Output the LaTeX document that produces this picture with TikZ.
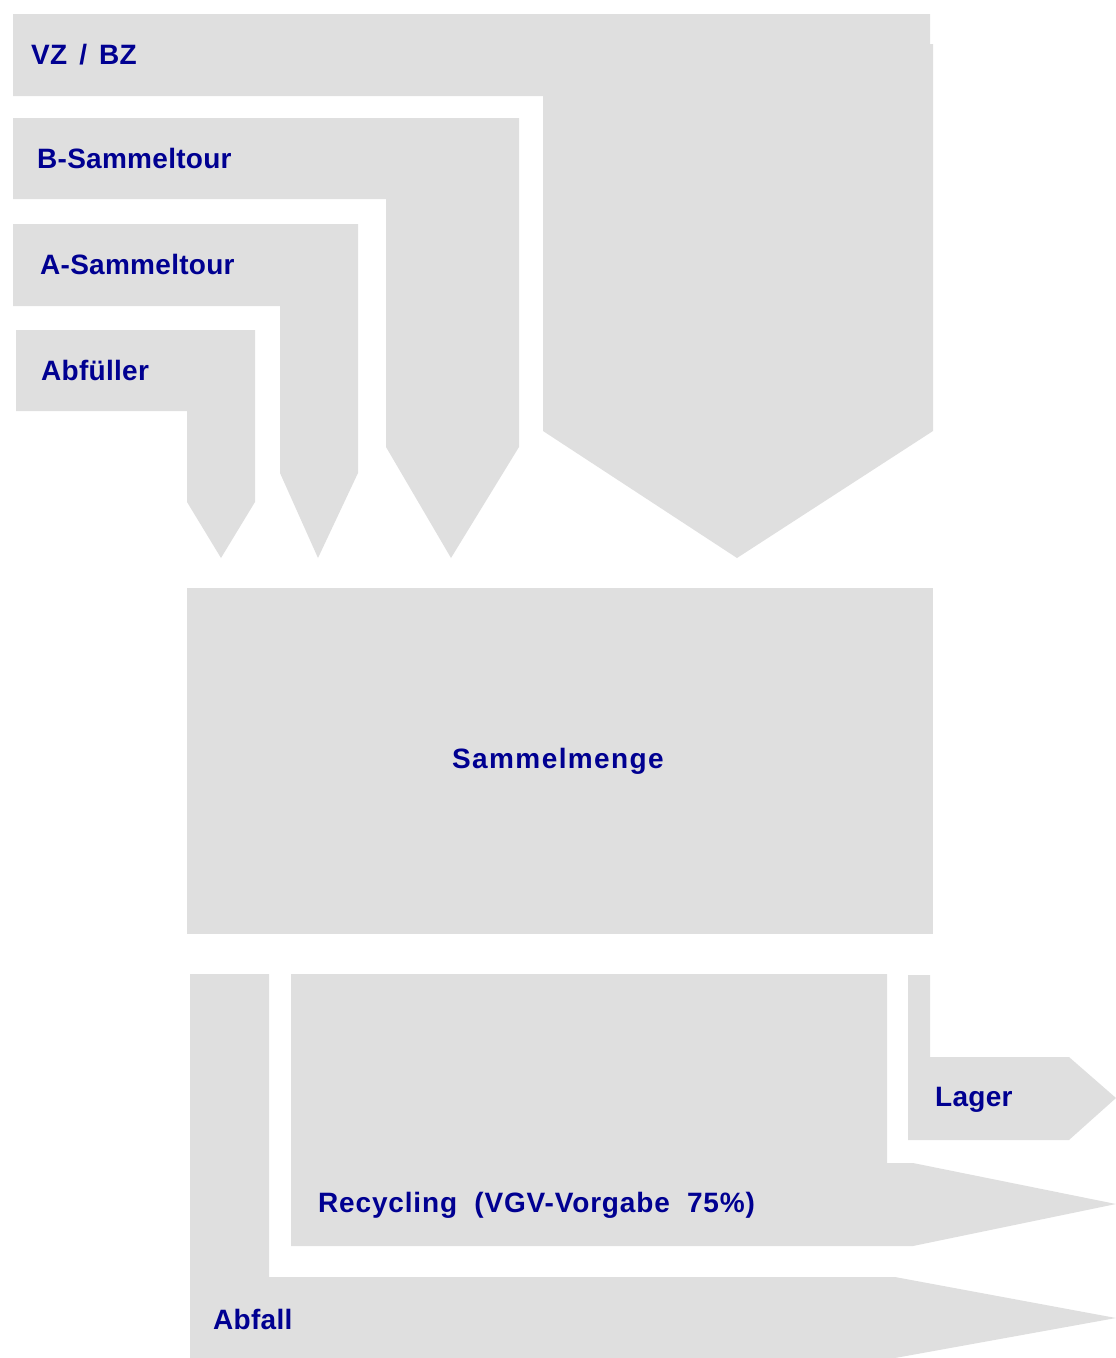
\documentclass[tikz,border=0pt]{standalone}
\usepackage{fontspec}
\setmainfont{Liberation Sans}
\definecolor{flowgray}{RGB}{223,223,223}
\definecolor{labelblue}{RGB}{0,0,145}
\tikzset{
	flow/.style={fill=flowgray, draw=none},
	lbl/.style={text=labelblue, font=\fontsize{28}{32}\selectfont\bfseries\addfontfeature{LetterSpace=1}, inner sep=0pt, anchor=base west},
	widelbl/.style={lbl, font=\fontsize{28}{32}\selectfont\bfseries\addfontfeature{LetterSpace=5}}
}
\begin{document}
\begin{tikzpicture}[x=1pt, y=-1pt]
	\useasboundingbox (0,0) rectangle (1116,1358);
	% inflows
	\fill[flow] (13,14) -- (930,14) -- (930,44) -- (933,44) -- (933,431) -- (737,558)
		-- (543,431) -- (543,96) -- (13,96) -- cycle;
	\fill[flow] (13,118) -- (519,118) -- (519,447) -- (451,558) -- (386,447)
		-- (386,199) -- (13,199) -- cycle;
	\fill[flow] (13,224) -- (358,224) -- (358,473) -- (318,558) -- (280,473)
		-- (280,306) -- (13,306) -- cycle;
	\fill[flow] (16,330) -- (255,330) -- (255,502) -- (221,558) -- (187,502)
		-- (187,411) -- (16,411) -- cycle;
	% total
	\fill[flow] (187,588) rectangle (933,934);
	% outflows
	\fill[flow] (190,974) -- (269,974) -- (269,1277) -- (895,1277) -- (1116,1318)
		-- (895,1358) -- (190,1358) -- cycle;
	\fill[flow] (291,974) -- (887,974) -- (887,1163) -- (913,1163) -- (1116,1204)
		-- (913,1246) -- (291,1246) -- cycle;
	\fill[flow] (908,975) -- (930,975) -- (930,1057) -- (1069,1057) -- (1116,1098)
		-- (1069,1140) -- (908,1140) -- cycle;
	% labels
	\node[lbl] (vzbz) at (31,64) {VZ\hspace{4pt} /\hspace{4pt} BZ};
	\node[lbl] (btour) at (37,168) {B-Sammeltour};
	\node[lbl] (atour) at (40,274) {A-Sammeltour};
	\node[lbl] (abfueller) at (41,380) {Abfüller};
	\node[widelbl, anchor=base] (menge) at (558,768) {Sammelmenge};
	\node[lbl] (lager) at (935,1106) {Lager};
	\node[lbl, font=\fontsize{28}{32}\selectfont\bfseries\addfontfeature{LetterSpace=3}] (recycling) at (318,1212) {Recycling~~(VGV-Vorgabe~~75\%)};
	\node[lbl] (abfall) at (213,1329) {Abfall};
\end{tikzpicture}
\end{document}
